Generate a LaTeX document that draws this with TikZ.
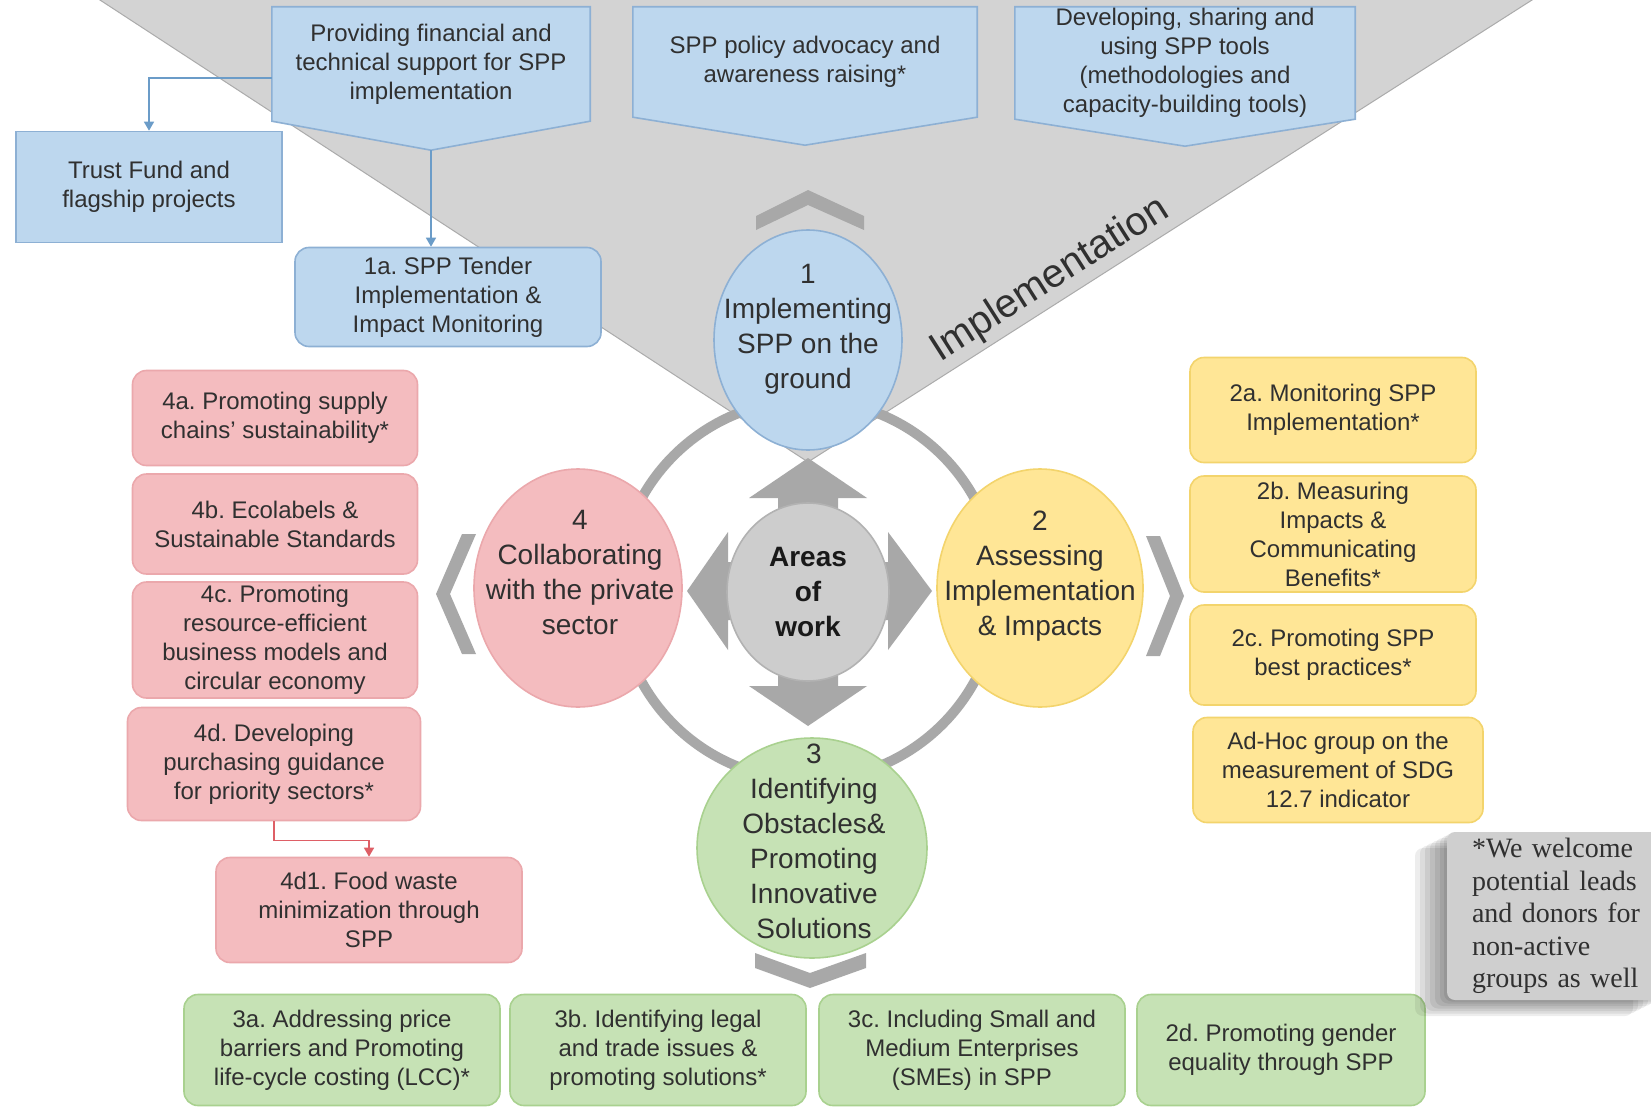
\documentclass[tikz,border=0pt]{standalone}
\usepackage{fontspec}
\setmainfont{Liberation Sans}
\newfontfamily\notefont{Liberation Serif}
\usetikzlibrary{arrows.meta,positioning,calc,shadows,backgrounds,shapes.geometric}
\frenchspacing
\definecolor{bluefill}{HTML}{BDD7EE}
\definecolor{blueline}{HTML}{8DB0D4}
\definecolor{blueconn}{HTML}{6B9CC8}
\definecolor{pinkfill}{HTML}{F4BCBF}
\definecolor{pinkline}{HTML}{EBA8AC}
\definecolor{pinkconn}{HTML}{DE5F66}
\definecolor{yellowfill}{HTML}{FFE696}
\definecolor{yellowline}{HTML}{F3D46C}
\definecolor{greenfill}{HTML}{C6E2B5}
\definecolor{greenline}{HTML}{A9D18F}
\definecolor{bggray}{HTML}{D3D3D3}
\definecolor{bgline}{HTML}{ABABAB}
\definecolor{arrowgray}{HTML}{A8A8A8}
\definecolor{areasfill}{HTML}{CDCDCD}
\definecolor{areasline}{HTML}{B2B2B2}
\definecolor{notefill}{HTML}{CFCFCF}
\definecolor{txtgray}{HTML}{303030}

\begin{document}
\begin{tikzpicture}[x=1pt,y=-1pt,
    txt/.style={font=\fontsize{24}{29}\selectfont,text=txtgray,align=center},
    bigtxt/.style={font=\fontsize{28}{35}\selectfont,text=txtgray,align=center},
    toptxt/.style={txt,inner sep=0pt},
    box/.style={txt,draw,line width=1.6pt,rounded corners=14pt,inner sep=0pt},
    bluebox/.style={box,fill=bluefill,draw=blueline},
    pinkbox/.style={box,fill=pinkfill,draw=pinkline},
    yellowbox/.style={box,fill=yellowfill,draw=yellowline},
    greenbox/.style={box,fill=greenfill,draw=greenline},
    pent/.style={fill=bluefill,draw=blueline,line width=1.6pt},
    blob/.style={ellipse,line width=1.6pt,inner sep=0pt},
    conn/.style={line width=1.5pt,-{Triangle[length=9pt,width=10pt]}},
    softshadow/.style={drop shadow={shadow xshift=-#1pt,shadow yshift=-#1pt/2,opacity=.07,fill=black}},
    notebox/.style={fill=notefill,rounded corners=8pt,inner sep=0pt,
      minimum width=218,minimum height=168,text width=168,align=left,
      font=\notefont\fontsize{28}{32.6}\selectfont,text=txtgray,
      softshadow=32,softshadow=27,softshadow=22,softshadow=17,softshadow=12,softshadow=7,softshadow=3},
  ]
    \useasboundingbox (0,0) rectangle (1651,1113);
    \clip (0,0) rectangle (1651,1113);

    \node[toptxt,minimum width=318,minimum height=114] (prov) at (431,64)
      {Providing financial and\\technical support for SPP\\implementation};
    \node[toptxt,minimum width=344,minimum height=110] (advo) at (805,62)
      {SPP policy advocacy and\\awareness raising*};
    \node[toptxt,minimum width=340,minimum height=112] (tools) at (1185,63)
      {Developing, sharing and\\using SPP tools\\(methodologies and\\capacity-building tools)};

    \begin{scope}[on background layer]
      \fill[white] (0,0) rectangle (1651,1113);
      \draw[fill=bggray,draw=bgline,line width=1pt] (54,-30) -- (808,462) -- (1579,-30);
      \foreach \n/\d in {prov/29,advo/28,tools/27}
        \draw[pent] (\n.north west) -- (\n.north east) -- (\n.south east)
          -- ([yshift=-\d pt]\n.south) -- (\n.south west) -- cycle;
    \end{scope}

    \draw[arrowgray,line width=10pt] (808,590) circle [radius=190];

    \fill[arrowgray] (808,458) -- (867,498) -- (838,498) -- (838,520) -- (778,520) -- (778,498) -- (749,498) -- cycle;
    \fill[arrowgray] (808,726) -- (867,686) -- (838,686) -- (838,664) -- (778,664) -- (778,686) -- (749,686) -- cycle;
    \fill[arrowgray] (687,591) -- (728,532) -- (728,562) -- (750,562) -- (750,620) -- (728,620) -- (728,650) -- cycle;
    \fill[arrowgray] (932,591) -- (888,532) -- (888,562) -- (866,562) -- (866,620) -- (888,620) -- (888,650) -- cycle;

    \node[blob,draw=areasline,fill=areasfill,minimum width=162,minimum height=178] (areas) at (808,592) {};
    \node[font=\bfseries\fontsize{28}{35}\selectfont,align=center,text=black!90] (areastxt) at (areas) {Areas\\of\\work};

    \node[blob,draw=blueline,fill=bluefill,minimum width=188,minimum height=220] (ground) at (808,340) {};
    \node[bigtxt] (groundtxt) at (808,329) {1\\Implementing\\SPP on the\\ground};
    \node[blob,draw=yellowline,fill=yellowfill,minimum width=206,minimum height=238] (assess) at (1040,588) {};
    \node[bigtxt] (assesstxt) at (1040,576) {2\\Assessing\\Implementation\\\& Impacts};
    \node[blob,draw=greenline,fill=greenfill,minimum width=230,minimum height=220] (obst) at (812,848) {};
    \node[bigtxt] (obsttxt) at (814,841) {3\\Identifying\\Obstacles\&\\Promoting\\Innovative\\Solutions};
    \node[blob,draw=pinkline,fill=pinkfill,minimum width=208,minimum height=238] (collab) at (578,588) {};
    \node[bigtxt] (collabtxt) at (580,572) {4\\Collaborating\\with the private\\sector};

    \fill[arrowgray] (756,216) -- (808,190) -- (864,216) -- (864,230) -- (808,205) -- (756,230) -- cycle;
    \fill[arrowgray] (462,534) -- (476,534) -- (450,594) -- (476,654) -- (462,654) -- (436,594) -- cycle;
    \fill[arrowgray] (1146,536) -- (1160,536) -- (1184,596) -- (1160,656) -- (1146,656) -- (1170,596) -- cycle;
    \fill[arrowgray] (755,953) -- (810,973) -- (866,953) -- (866,968) -- (810,988) -- (755,968) -- cycle;

    \node[rotate=32.5,font=\fontsize{40}{48}\selectfont,text=txtgray] (impl) at (1050,280) {Implementation};

    \node[bluebox,rounded corners=0pt,minimum width=266,minimum height=111] (trust) at (149,187)
      {Trust Fund and\\flagship projects};
    \node[bluebox,minimum width=306,minimum height=99] (tender) at (448,297)
      {1a. SPP Tender\\Implementation \&\\Impact Monitoring};

    \node[pinkbox,minimum width=285,minimum height=95] (g4a) at (275,418)
      {4a. Promoting supply\\chains' sustainability*};
    \node[pinkbox,minimum width=285,minimum height=100] (g4b) at (275,524)
      {4b. Ecolabels \&\\Sustainable Standards};
    \node[pinkbox,minimum width=285,minimum height=116] (g4c) at (275,640)
      {4c. Promoting\\resource-efficient\\business models and\\circular economy};
    \node[pinkbox,minimum width=293,minimum height=113] (g4d) at (274,764)
      {4d. Developing\\purchasing guidance\\for priority sectors*};
    \node[pinkbox,minimum width=306,minimum height=105] (g4d1) at (369,910)
      {4d1. Food waste\\minimization through\\SPP};

    \node[yellowbox,minimum width=286,minimum height=105] (g2a) at (1333,410)
      {2a. Monitoring SPP\\Implementation*};
    \node[yellowbox,minimum width=286,minimum height=116] (g2b) at (1333,534)
      {2b. Measuring\\Impacts \&\\Communicating\\Benefits*};
    \node[yellowbox,minimum width=286,minimum height=100] (g2c) at (1333,655)
      {2c. Promoting SPP\\best practices*};
    \node[yellowbox,minimum width=290,minimum height=105] (adhoc) at (1338,770)
      {Ad-Hoc group on the\\measurement of SDG\\12.7 indicator};

    \node[greenbox,minimum width=316,minimum height=111] (g3a) at (342,1050)
      {3a. Addressing price\\barriers and Promoting\\life-cycle costing (LCC)*};
    \node[greenbox,minimum width=296,minimum height=111] (g3b) at (658,1050)
      {3b. Identifying legal\\and trade issues \&\\promoting solutions*};
    \node[greenbox,minimum width=306,minimum height=111] (g3c) at (972,1050)
      {3c. Including Small and\\Medium Enterprises\\(SMEs) in SPP};
    \node[greenbox,minimum width=288,minimum height=111] (g2d) at (1281,1050)
      {2d. Promoting gender\\equality through SPP};

    \draw[conn,blueconn] ([yshift=-14pt]prov.west) -| (trust.north);
    \draw[conn,blueconn] ([yshift=-29pt]prov.south) -- (prov.south |- tender.north);
    \draw[conn,pinkconn] (g4d.south) -- ++(0,19) -| (g4d1.north);

    \node[notebox] (note) at (1556,916)
      {*We welcome\\potential leads\\and donors for\\non-active\\groups as well};
\end{tikzpicture}
\end{document}
